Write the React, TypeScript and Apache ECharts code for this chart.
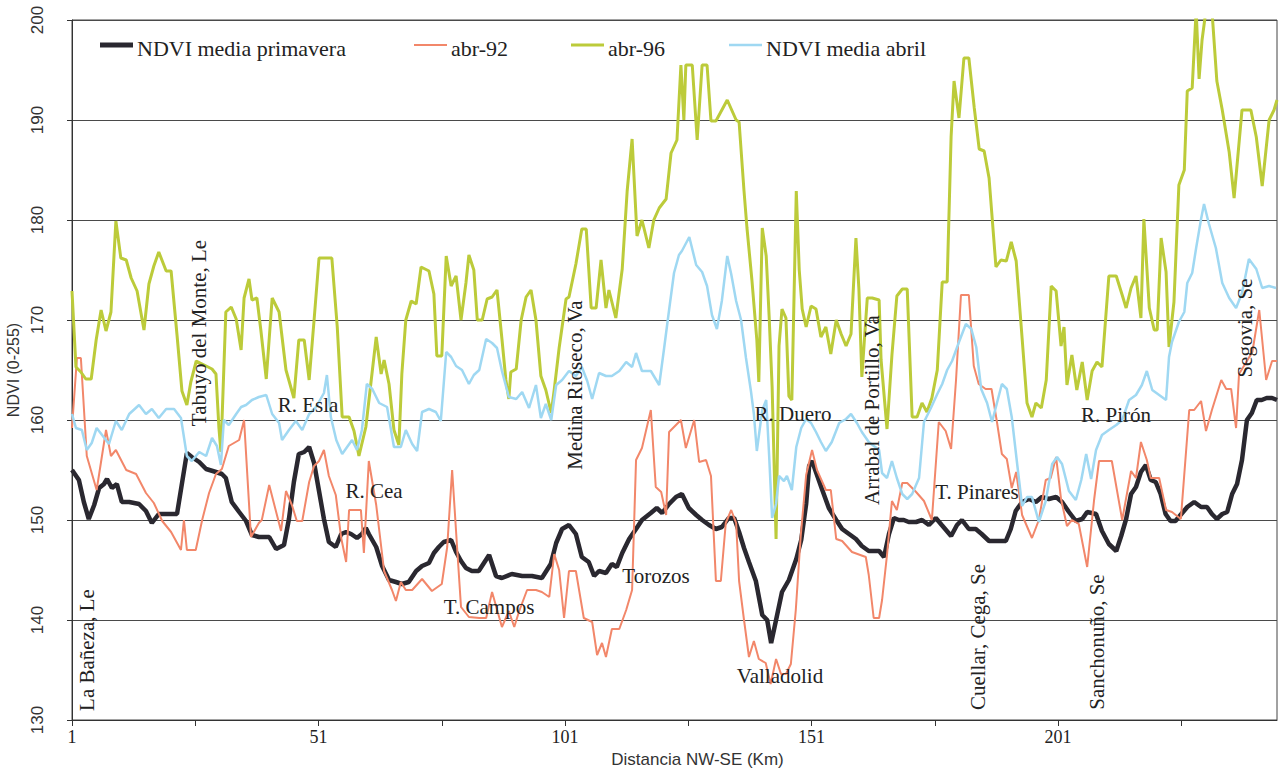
import React, { useEffect, useRef } from "react";
import * as echarts from "echarts";

// Distance along the NW-SE transect (km) and NDVI value (0-255 scale)
const primavera: [number, number][] = [
  [1,155],[2.4,154],[3.4,151.8],[4.4,150.1],[5.5,151.5],[6.5,153.2],[7.5,153.6],[8.1,154.1],[9.1,153.2],[10.1,153.6],
  [11.1,151.8],[12.6,151.8],[14.6,151.6],[16,150.9],[17.2,149.7],[18.6,150.6],[20.1,150.6],[22.3,150.6],[24.3,156.7],[25.3,156.3],
  [26.8,155.8],[28.2,155.1],[30.2,154.8],[31.4,154.6],[32.2,154.2],[33.4,151.8],[34.9,150.8],[36.3,149.9],[37.5,148.5],[38.9,148.3],
  [41,148.3],[42.4,147.1],[44,147.5],[45,150.1],[46,153.8],[47,156.6],[48.1,156.8],[49.1,157.3],[50.1,155.7],[51.1,152.9],
  [52.1,150.1],[53.1,147.8],[54.5,147.3],[55.6,148.6],[56.6,148.8],[57.6,148.6],[58.8,148.2],[59.8,148.6],[60.6,149.2],[61.2,148.6],
  [62.7,147.3],[63.9,145.4],[65.3,144],[66.7,143.8],[67.9,143.6],[69.3,143.8],[70.8,144.9],[72,145.4],[73.4,145.7],[74.4,146.7],
  [75.4,147.3],[76.4,147.8],[77.9,148],[78.9,146.8],[79.9,145.9],[80.9,145.2],[82.1,144.9],[83.5,144.9],[85.6,146.5],[87,144.4],
  [88.2,144.2],[90.2,144.6],[92.3,144.4],[94.3,144.4],[96.3,144.2],[98.1,145.6],[99.2,147.7],[100.4,149.1],[101.8,149.5],[103.2,148.6],
  [104.4,146.3],[105.8,145.8],[106.9,144.4],[107.9,144.9],[109.3,144.7],[110.5,145.6],[111.5,145.3],[112.6,146.7],[114,148.1],[115.4,149.1],
  [116.6,150],[118.4,150.7],[119.6,151.2],[120.7,150.7],[122.1,151.6],[123.5,152.3],[124.7,152.6],[126.1,151.2],[127.6,150.5],[128.8,150],
  [130.2,149.5],[131.6,149.1],[132.8,149.3],[134.2,150.2],[135.3,150.2],[136.3,148.8],[137.3,147.2],[138.3,145.8],[139.7,143.9],[141,140.5],
  [142,140],[142.8,137.7],[143.8,140],[145,142.8],[146.4,144],[147.9,146.1],[148.9,148],[149.9,151.6],[150.5,155.4],[151.1,155.9],
  [152.1,154.5],[153.1,153.1],[154.5,151.2],[156,150],[157.2,149.1],[158.6,148.6],[160,148.1],[161.2,147.4],[162.6,146.9],[164.7,146.9],
  [165.7,146.3],[166.7,148.6],[167.7,150.2],[168.7,150],[169.7,150],[170.7,149.8],[172.2,149.8],[173.4,150],[174.8,149.5],[176.2,150.2],
  [177.4,149.5],[179.3,148.4],[180.5,149.5],[181.5,150],[182.9,149.1],[184.3,149.1],[185.5,148.6],[187,147.9],[188.4,147.9],[190.4,147.9],
  [191.4,149.1],[192.4,150.9],[193.7,151.8],[195.1,152.1],[196.5,151.8],[197.7,152.3],[199.1,152.1],[200.6,152.3],[201.8,151.8],[203.2,150.8],
  [204.6,149.9],[205.9,150.1],[206.9,150.8],[208.7,150.6],[209.9,148.9],[211.3,147.6],[212.8,146.9],[213.8,148.4],[214.8,150.1],[215.8,152.6],
  [216.8,153.3],[217.8,154.8],[218.8,155.5],[219.8,154],[220.8,153.8],[221.8,152.6],[222.8,150.6],[223.8,149.9],[224.8,149.9],[226,150.6],
  [227.2,151.3],[228.6,151.8],[230,151.3],[231.2,151.3],[232.2,150.6],[233.2,150.1],[234.3,150.6],[235.3,150.8],[236.3,152.6],[237.3,153.6],
  [238.3,156],[239.3,160],[240.3,160.7],[241.3,162],[242.3,162],[243.3,162.2],[244.4,162.2],[245.4,162],
];

const abr92: [number, number][] = [
  [1,159.2],[2,166.2],[2.8,166.2],[4,156.4],[6,153],[7.9,159],[8.9,156.4],[9.9,157],[12,155],[14,154.6],
  [16,152.7],[17.6,151.7],[19.3,149.9],[21.1,148.8],[23.1,147],[23.7,150],[24.3,147],[26.1,147],[27.4,150],[28.8,152.7],
  [30.2,154.6],[31.4,155.1],[32.8,157.4],[34.9,158],[35.9,160],[37.3,148.3],[38.9,149.7],[39.5,150],[41,153.5],[43.4,148.9],
  [44.4,152.9],[45.6,151.5],[46.6,149.9],[47.7,149.9],[49.1,153.8],[50.1,155.4],[51.1,155.9],[52.1,157],[53.1,154.4],[54.5,152.5],
  [55.6,148.2],[56.6,145.8],[57.2,151],[59.6,151],[60.2,146.7],[61.2,155.9],[62.7,151.5],[64.3,144.9],[65.9,143],[66.7,141.9],
  [67.7,143.8],[68.7,143],[70,143],[72,144.1],[74,142.9],[76,143.6],[77.1,147.3],[78.1,155],[79.1,147.3],[79.9,141.3],
  [81.5,140.3],[83.6,140.2],[85,140.2],[86.2,142.8],[88.2,139.3],[89.6,140.9],[90.7,139.3],[91.7,140.9],[93.3,143],[95.1,143],
  [96.3,142.8],[97.8,142.3],[98.8,146.6],[99.8,145],[100.8,140.2],[101.8,144.9],[103.2,144.9],[104.8,140.2],[106.5,139.8],[107.5,136.5],
  [108.5,137.7],[109.3,136.3],[110.5,139.1],[112,139.1],[113.4,141],[114.6,143],[115.4,156],[116.6,157.2],[118.4,161],[119.4,153.3],
  [120.5,152.8],[121.5,150.5],[122.1,158.8],[123.5,159.5],[124.5,160],[125.5,157.2],[127.2,160],[128.2,155.8],[129.6,156],[130.6,154.4],
  [131.6,143.9],[132.6,143.9],[133.6,149.7],[134.7,151],[135.7,149.7],[136.3,143.9],[137.3,140],[138.3,136.3],[139.3,137.9],[140.3,136.1],
  [141.7,135.7],[142.7,133.6],[143.8,136.1],[144.8,134.6],[145.8,134.6],[146.8,135.6],[147.8,141],[148.8,148.4],[149.9,154.5],[151.1,157],
  [152.1,155],[153.9,153],[154.9,153],[156,148.1],[157.2,147.9],[159.2,146.8],[162,146.3],[162.6,144.5],[163.6,140.2],[164.7,140.2],
  [165.3,142],[166.3,146.5],[167.3,151.9],[168.3,151],[169.4,153.7],[170.4,153.7],[172.2,152.8],[173.8,151.9],[175.4,150],[176.8,159.8],
  [178.2,158.9],[179.3,157.1],[180.3,164],[181.3,172.5],[182.9,172.5],[183.9,165.4],[184.9,163.6],[186.3,163.1],[187.5,163.1],[188.6,159.8],
  [189.6,156.6],[190.6,156.1],[191.6,153.2],[192.5,154.8],[193.7,150.5],[195.7,148.2],[197.1,150],[198.5,154],[199.5,154.2],[200.6,156.3],
  [201.6,152.1],[202.8,149.4],[203.8,150],[205.2,149.6],[206.9,145.3],[208.3,152],[209.3,155.9],[211.9,155.9],[214,150],[215.8,154.9],
  [216.8,154.2],[217.8,157.8],[219,156],[219.8,154.2],[221.5,154.2],[222.9,151],[224.1,150.8],[225.9,150.1],[227.6,161],[228.6,161],
  [230,161.9],[231,158.9],[232.2,161],[234.1,164],[235.1,163.1],[236.1,163.1],[237.1,159.2],[237.7,164.6],[240.4,166.8],[241.8,171],
  [243.2,164],[244.4,165.9],[245.4,165.9],
];

const abr96: [number, number][] = [
  [1,172.9],[1.8,165.3],[2.8,164.8],[3.8,164.1],[4.9,164.1],[5.9,168],[6.9,171],[7.9,168.9],[8.9,170.8],[9.9,179.9],
  [10.9,176.2],[12,176],[13,174.2],[14.2,172.9],[15.6,169],[16.6,173.6],[17.6,175.4],[18.6,176.8],[20.1,174.9],[21.1,174.9],
  [22.3,168.5],[23.3,162.9],[24.3,161.5],[25.1,163.8],[26.2,165.9],[28.2,165.4],[29.4,165.1],[30.2,164.6],[30.8,159.2],[31.2,156.8],
  [32.2,170.8],[33.3,171.3],[34.3,170.1],[35.3,167],[35.9,172.2],[36.9,174.1],[37.5,172],[38.5,172.2],[39.3,169],[40.4,164.1],
  [41.6,172.2],[43,170.8],[44.4,165],[46,162.2],[47,168],[48.1,168],[49.1,164],[50.1,170],[51.1,176.2],[53.7,176.2],
  [54.8,169.3],[55.8,160.3],[57.2,160.3],[58.2,158.9],[59.2,156.4],[60.6,159.3],[61.6,163.6],[62.7,168.3],[63.7,164.6],[64.3,166],
  [65.3,163.6],[66.3,159],[67.3,157.5],[67.9,164.6],[68.7,170],[69.8,171.9],[70.8,171.6],[71.8,175.3],[73.4,174.9],[74.4,172.6],
  [75,166.4],[76,166.4],[76.9,176.4],[77.9,173.4],[78.9,174.4],[79.9,170],[80.9,173.7],[81.5,176.5],[82.5,175],[83.2,170],
  [84.2,170],[85.2,172.1],[86.2,172.3],[87.2,173],[88.2,168.1],[89,164],[89.6,162.1],[90,164.8],[91.1,165.1],[92.1,170],
  [93.1,172.3],[94.1,173],[95.1,170],[96.1,164.4],[97.1,163],[98.2,160.7],[98.8,163],[99.8,167.2],[101.2,172.1],[101.8,172.3],
  [103.2,175.6],[104.4,179.1],[105.3,179.1],[106.3,171.2],[107.3,171.2],[108.3,176],[109.3,171.2],[109.9,173],[111.3,170.2],[112.6,175.1],
  [113.6,182.9],[114.6,188.1],[115.6,178.4],[116.6,180],[118,177.2],[119,180],[120.1,181.2],[121.5,182.1],[122.5,186.7],[123.7,188],
  [124.5,195.5],[125.1,190],[125.5,195.5],[126.8,195.5],[127.8,188],[128.8,195.5],[129.8,195.5],[130.6,189.9],[131.6,189.9],[133.9,192],
  [135.7,190],[136.3,189.8],[137.3,182.9],[137.9,179.2],[138.9,174],[139.9,168],[140.3,163.8],[141,179.2],[141.8,176.4],[142.4,170.3],
  [143,163.3],[143.8,148.1],[144.4,167.4],[145,171.1],[145.8,170.2],[146.4,162.4],[147,162],[147.9,182.9],[148.5,175],[149.1,171.1],
  [149.9,169.3],[150.9,171.4],[151.9,171.1],[152.9,168.3],[153.9,169.3],[154.9,166.6],[156,170],[157,168.6],[158,167.4],[159,168.6],
  [160,178.2],[160.6,173.1],[161.2,164.3],[162.3,172.2],[163.3,172.2],[164.7,172],[165.1,166],[166.3,159.1],[167.3,166.5],[168.3,172.4],
  [169.4,173.1],[170.4,173.1],[171.4,160.3],[172.4,160.3],[173.4,161.7],[174.4,160.8],[175.4,162.2],[176.5,165],[177.5,173.8],[178.5,173.8],
  [179.3,188.3],[179.9,193.9],[180.9,190.2],[181.9,196.2],[182.9,196.2],[184,191.2],[185,187.1],[186,186.9],[187,184.2],[188.4,175.3],
  [189.4,176],[190.5,175.9],[191.5,177.8],[192.5,175.9],[193.7,168.2],[194.7,161.7],[195.7,160.3],[196.5,161.7],[197.6,161.2],[198.6,164],
  [199.6,173.4],[200.6,172.9],[201.6,167.4],[202.2,169.3],[202.8,163.5],[203.8,166.5],[204.8,163],[205.9,165.8],[206.9,162],[207.9,164.9],
  [208.9,165.8],[209.9,165.3],[211.3,174.4],[212.8,174.4],[214,172.5],[214.8,171.2],[215.8,173.2],[216.8,174.4],[217.8,170.2],[218.4,180.1],
  [219.5,171.2],[220.5,169],[221.1,169],[221.9,178.2],[222.9,174.8],[223.5,167.3],[224.5,171.8],[225.5,183.5],[226.6,185],[227.2,192.9],
  [228.2,193.2],[229,201],[229.6,194.1],[230.2,198],[231,201],[232.2,201],[233.2,193.9],[234.3,191],[235.7,186.8],[236.7,182.2],
  [238.3,191],[240.1,191],[241.2,188.3],[242.4,183.4],[243.8,190],[244.8,191],[245.4,192],
];

const abril: [number, number][] = [
  [1,160.6],[1.8,159.2],[3,159],[4,157],[5,157.7],[6,159.2],[7.1,158.5],[8.5,157.6],[9.9,159.9],[11.1,159],
  [12.6,160.6],[14.6,161.5],[16,160.6],[17.2,161.1],[18.6,160.2],[20.1,161.1],[21.7,161.1],[23.1,160.2],[24.3,156.4],[25.3,155.9],
  [26.8,156.8],[28.2,156.4],[29.4,158.2],[30.4,157.4],[31.2,155.5],[31.8,160],[32.8,159.5],[34.3,160.6],[35.3,161.3],[36.3,161.5],
  [37.5,162],[38.9,162.3],[40.4,162.5],[41.6,160.6],[43,159.7],[43.6,158],[45,159],[46.4,159.9],[47.7,159],[49.1,160.6],
  [50.5,161.3],[52.1,162.7],[52.7,164.5],[53.5,160.3],[54.6,158],[55.8,156.6],[57.8,158],[58.8,157],[59.8,159],[60.8,163.6],
  [61.9,163.1],[63.3,161.7],[64.9,161.3],[66.3,157.3],[67.7,157.3],[68.7,159],[70,157.6],[71,156.9],[72,160.8],[73.4,161.1],
  [74.8,160.8],[75.8,159.9],[76.9,166.8],[77.9,166.3],[78.9,165.4],[80.1,165],[81.5,163.6],[82.5,164.5],[83.6,165],[85,168.1],
  [86.2,167.7],[87.2,167.2],[88.2,164.9],[89.6,162.3],[91.1,162.1],[92.3,162.8],[93.7,161.2],[95.1,163.5],[96.1,160.2],[97.1,161.6],
  [98.2,160],[99.2,163.5],[100.4,164],[101.8,164.9],[103.2,164.4],[104.4,165.3],[105.5,163.9],[106.5,162.1],[107.9,164.7],[109.3,164.4],
  [110.5,164.4],[112,164.9],[113.4,165.8],[114.6,165.3],[115.4,166.7],[116.6,164.9],[118.4,164.9],[120.1,163.5],[121.1,167.2],[122.1,171],
  [123.1,174.7],[124.1,176.5],[124.7,176.9],[126.2,178.3],[127.6,175.5],[128.8,174.8],[129.8,173.4],[130.8,170.5],[131.8,169.1],[132.8,171.9],
  [133.9,176.4],[134.7,174.6],[135.7,171.9],[136.7,170],[137.7,166.2],[138.7,162.9],[139.3,160.6],[139.9,156.9],[141,161],[141.8,162],
  [142.4,156.4],[143,150.2],[143.8,151.6],[144.4,154.4],[145.4,153.9],[146,154.4],[147,153],[147.9,157.3],[148.9,159.2],[149.9,160.1],
  [150.9,159.7],[151.9,158.8],[152.9,157.8],[153.9,156.9],[155.1,157.8],[156.6,159.7],[158,160.1],[159,160.6],[160.2,159.7],[161.2,158.8],
  [162.6,157.8],[164.7,157],[165.3,154.7],[166.3,154.2],[167.3,155.9],[168.3,154.2],[169.4,152.6],[170.4,152.1],[171.4,152.6],[172.8,154.2],
  [173.8,159.8],[175.2,161.2],[176.5,162.6],[177.5,163.6],[178.5,165],[179.5,165.9],[180.9,167.8],[182.3,169.6],[183.4,169.1],[184.4,167.3],
  [185.4,163.1],[186.6,161.7],[187.6,159.8],[188.6,161.7],[189.6,163.6],[190.6,163.1],[191.6,160.3],[192.7,155.6],[193.7,151.4],[194.7,152.3],
  [195.7,152.3],[197.1,149.8],[198.5,151.9],[199.8,155.6],[200.8,156.3],[201.8,155.6],[203.2,152.9],[204.6,152],[205.7,154],[206.7,156.6],
  [207.7,154.1],[208.7,157],[209.9,158.5],[211.3,159],[212.8,159.5],[214,160],[215.4,162],[216.8,162.5],[218,163.5],[219,164.9],
  [220.1,163],[221.5,162.5],[222.9,162],[223.5,166.3],[224.1,167.8],[225.5,169.8],[226.6,170.8],[227.2,173.7],[228.2,174.7],[229,177.2],
  [230,180.1],[230.6,181.6],[231.6,179.6],[233,177.2],[234.3,173.7],[235.7,172.2],[237.1,171.2],[238.3,172.7],[239.7,176.1],[241.2,175.1],
  [242.4,173.2],[243.8,173.4],[245.2,173.2],
];

const seriesNames = ["NDVI media primavera", "abr-92", "abr-96", "NDVI media abril"];
const xLabelValues = [1, 51, 101, 151, 201];
const xTickValues = [1, 26, 51, 76, 101, 126, 151, 176, 201, 226];

// Place-name annotations: [text, x, y, vertical]
const annotations: [string, number, number, boolean][] = [
  ["La Bañeza, Le", 87, 650, true],
  ["Tabuyo del Monte, Le", 199, 333, true],
  ["R. Esla", 308, 405, false],
  ["R. Cea", 374, 491, false],
  ["T. Campos", 489, 607, false],
  ["Medina Rioseco, Va", 575, 385, true],
  ["Torozos", 656, 576, false],
  ["Valladolid", 780, 676, false],
  ["R. Duero", 793, 414, false],
  ["Arrabal de Portillo, Va", 872, 410, true],
  ["T. Pinares", 977, 492, false],
  ["Cuellar, Cega, Se", 978, 637, true],
  ["R. Pirón", 1116, 415, false],
  ["Sanchonuño, Se", 1097, 642, true],
  ["Segovia, Se", 1245, 328, true],
];

// Legend entry x positions (line start) in the picture
const legendX = [100, 414, 571, 729];

export default function App() {
  const ref = useRef<HTMLDivElement>(null);

  useEffect(() => {
    if (!ref.current) return;
    const chart = echarts.init(ref.current, null, { renderer: "svg" });
    const lineColors = ["#2a2830", "#f2876a", "#bccb3a", "#9fd8f2"];
    const lineWidths = [4.5, 2, 3, 2.5];
    const legendWidths = [5, 2, 3, 2.5];
    const datasets = [primavera, abr92, abr96, abril];

    const legendGraphics: any[] = [];
    seriesNames.forEach((name, i) => {
      const x0 = legendX[i];
      legendGraphics.push({
        type: "line",
        shape: { x1: x0, y1: 45, x2: x0 + 33, y2: 45 },
        style: { stroke: lineColors[i], lineWidth: legendWidths[i] },
        z: 100,
      });
      legendGraphics.push({
        type: "text",
        x: x0 + 37,
        y: 48,
        z: 100,
        style: {
          text: name,
          fill: "#222",
          fontFamily: "Liberation Serif",
          fontSize: 22,
          align: "left",
          verticalAlign: "middle",
        },
      });
    });

    chart.setOption({
      animation: false,
      backgroundColor: "#ffffff",
      grid: {
        left: 72,
        right: 5,
        top: 20,
        bottom: 50,
        containLabel: false,
        outerBoundsMode: "none",
        show: true,
        borderColor: "#444",
        borderWidth: 1,
        backgroundColor: "transparent",
      },
      legend: { show: false },
      xAxis: {
        type: "value",
        min: 1,
        max: 245.4,
        name: "Distancia NW-SE (Km)",
        nameLocation: "middle",
        nameGap: 24,
        nameTextStyle: {
          fontFamily: "Liberation Sans",
          fontSize: 17,
          color: "#333",
          padding: [0, 0, 0, 46],
        },
        axisLine: { show: true, lineStyle: { color: "#333", width: 1 } },
        axisTick: { show: true, customValues: xTickValues, length: 6, lineStyle: { color: "#333" } },
        axisLabel: {
          customValues: xLabelValues,
          fontFamily: "Liberation Serif",
          fontSize: 18,
          color: "#222",
          margin: 8,
        },
        splitLine: { show: false },
      },
      yAxis: {
        type: "value",
        min: 130,
        max: 200,
        interval: 10,
        name: "NDVI (0-255)",
        nameLocation: "middle",
        nameGap: 44,
        nameRotate: 90,
        nameTextStyle: { fontFamily: "Liberation Sans", fontSize: 16, color: "#333" },
        axisLine: { show: true, lineStyle: { color: "#333", width: 1 } },
        axisTick: { show: true, length: 5, lineStyle: { color: "#333" } },
        axisLabel: {
          rotate: 90,
          fontFamily: "Liberation Sans",
          fontSize: 17,
          color: "#333",
          margin: 26,
        },
        splitLine: { show: true, lineStyle: { color: "#4a4a4a", width: 1 } },
      },
      series: datasets.map((d, i) => ({
        name: seriesNames[i],
        type: "line",
        data: d,
        symbol: "none",
        showSymbol: false,
        smooth: false,
        clip: true,
        color: lineColors[i],
        lineStyle: { color: lineColors[i], width: lineWidths[i] },
      })),
      graphic: [
        ...legendGraphics,
        ...annotations.map(([text, x, y, vertical]) => ({
          type: "text",
          x,
          y,
          rotation: vertical ? Math.PI / 2 : 0,
          z: 100,
          style: {
            text,
            fill: "#222",
            fontFamily: "Liberation Serif",
            fontSize: 21,
            align: "center",
            verticalAlign: "middle",
          },
        })),
      ],
    });

    return () => {
      chart.dispose();
    };
  }, []);

  return (
    <div
      ref={ref}
      style={{ position: "absolute", left: 0, top: 0, width: 1282, height: 770, background: "#fff" }}
    />
  );
}
